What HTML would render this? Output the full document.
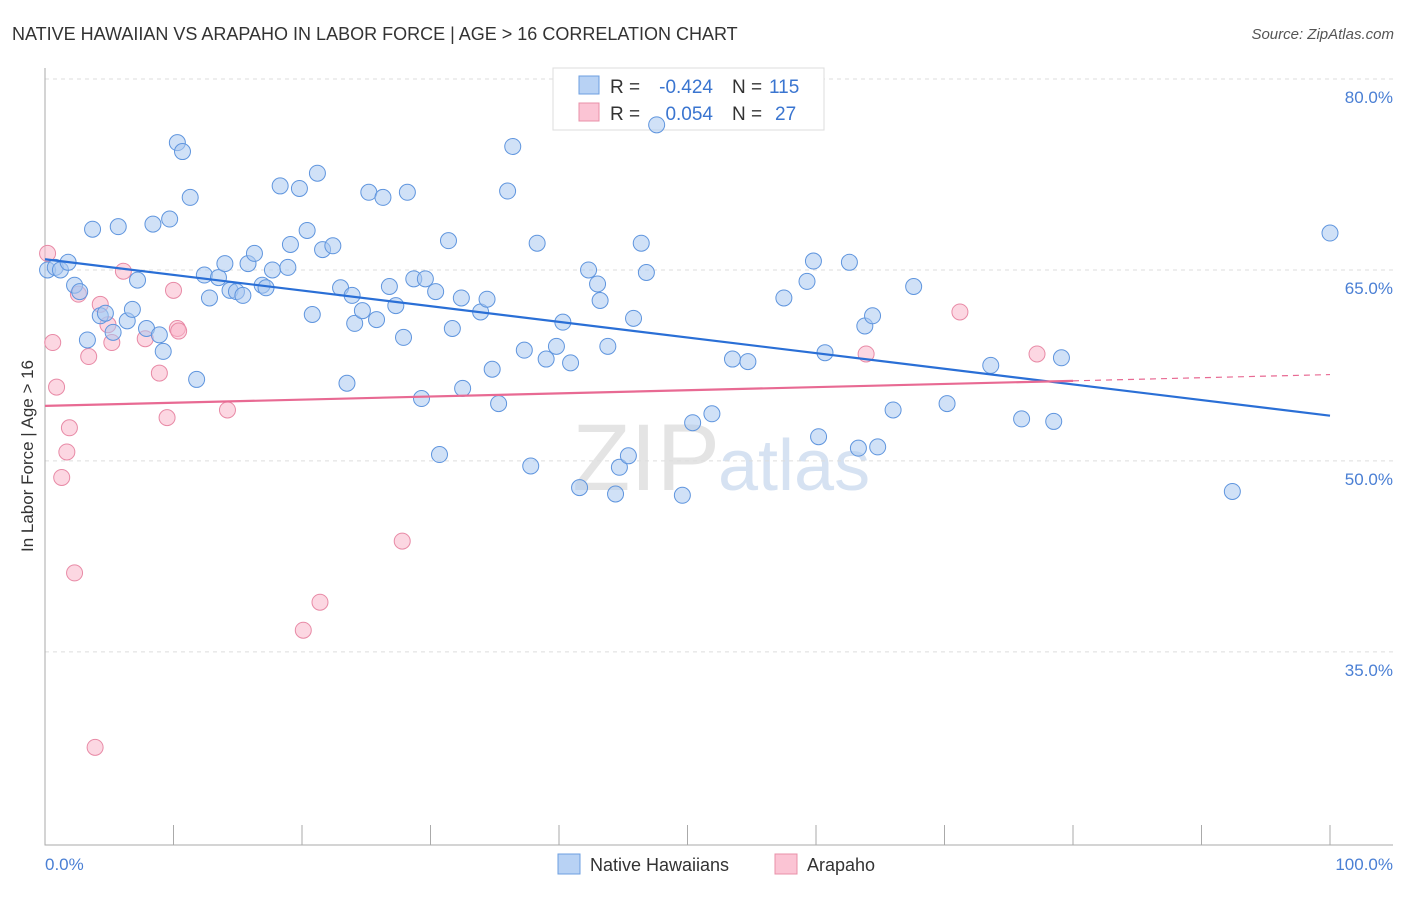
<!DOCTYPE html>
<html><head><meta charset="utf-8">
<style>
body{margin:0;background:#fff;font-family:"Liberation Sans",sans-serif;}
svg text{font-family:"Liberation Sans",sans-serif;}
</style></head>
<body>
<svg id="chart" width="1406" height="892">
<text x="12" y="40" font-size="18" fill="#333">NATIVE HAWAIIAN VS ARAPAHO IN LABOR FORCE | AGE &gt; 16 CORRELATION CHART</text>
<text x="1394" y="39" font-size="15" fill="#555" font-style="italic" text-anchor="end">Source: ZipAtlas.com</text>
<text x="720" y="490" font-size="95" fill="#e4e4e4" text-anchor="end" font-family="Liberation Serif">ZIP</text>
<text x="718" y="490" font-size="72" fill="#d6e2f2">atlas</text>
<g id="grid"></g>
<g id="axes"></g>
<g>
<rect x="553" y="68" width="271" height="62" fill="#fff" stroke="#ddd"/>
<rect x="579" y="76" width="20" height="18" fill="#b8d2f4" stroke="#6d9fe0"/>
<rect x="579" y="103" width="20" height="18" fill="#fbc4d4" stroke="#e890a8"/>
<text x="610" y="93" font-size="19" fill="#333">R =</text>
<text x="713" y="93" font-size="19" fill="#3a75d0" text-anchor="end">-0.424</text>
<text x="732" y="93" font-size="19" fill="#333">N =</text>
<text x="769" y="93" font-size="19" fill="#3a75d0">115</text>
<text x="610" y="120" font-size="19" fill="#333">R =</text>
<text x="713" y="120" font-size="19" fill="#3a75d0" text-anchor="end">0.054</text>
<text x="732" y="120" font-size="19" fill="#333">N =</text>
<text x="775" y="120" font-size="19" fill="#3a75d0">27</text>
</g>
<g id="pts"></g>
<g id="trend"></g>
<text transform="translate(33,456) rotate(-90)" font-size="17" fill="#333" text-anchor="middle">In Labor Force | Age &gt; 16</text>
<text x="45" y="870" font-size="17" fill="#4a7fd4">0.0%</text>
<text x="1393" y="870" font-size="17" fill="#4a7fd4" text-anchor="end">100.0%</text>
<g>
<rect x="558" y="854" width="22" height="20" fill="#b8d2f4" stroke="#6d9fe0"/>
<text x="590" y="871" font-size="18" fill="#333">Native Hawaiians</text>
<rect x="775" y="854" width="22" height="20" fill="#fbc4d4" stroke="#e890a8"/>
<text x="807" y="871" font-size="18" fill="#333">Arapaho</text>
</g>
</svg>
<script>
const yTicks=[80,65,50,35];
const yTickLabels=["80.0%","65.0%","50.0%","35.0%"];
const xTicks=[0,10,20,30,40,50,60,70,80,90,100];
const blueX=[0.2,0.8,1.2,1.8,2.3,2.7,3.3,3.7,4.3,4.7,5.3,5.7,6.4,6.8,7.2,7.9,8.4,8.9,9.2,9.7,10.3,10.7,11.3,11.8,12.4,12.8,13.5,14.0,14.4,14.9,15.4,15.8,16.3,16.9,17.2,17.7,18.3,18.9,19.1,19.8,20.4,20.8,21.2,21.6,22.4,23.0,23.5,23.9,24.1,24.7,25.2,25.8,26.3,26.8,27.3,27.9,28.2,28.7,29.3,29.6,30.4,30.7,31.4,31.7,32.4,32.5,33.9,34.4,34.8,35.3,36.0,36.4,37.3,37.8,38.3,39.0,39.8,40.3,40.9,41.6,42.3,43.0,43.2,43.8,44.4,44.7,45.4,45.8,46.4,46.8,47.6,49.6,50.4,51.9,53.5,54.7,57.5,59.3,59.8,60.2,60.7,62.6,63.3,63.8,64.4,64.8,66.0,67.6,70.2,73.6,76.0,78.5,79.1,92.4,100.0];
const blueY=[65.0,65.2,65.0,65.6,63.8,63.3,59.5,68.2,61.4,61.6,60.1,68.4,61.0,61.9,64.2,60.4,68.6,59.9,58.6,69.0,75.0,74.3,70.7,56.4,64.6,62.8,64.4,65.5,63.4,63.3,63.0,65.5,66.3,63.8,63.6,65.0,71.6,65.2,67.0,71.4,68.1,61.5,72.6,66.6,66.9,63.6,56.1,63.0,60.8,61.8,71.1,61.1,70.7,63.7,62.2,59.7,71.1,64.3,54.9,64.3,63.3,50.5,67.3,60.4,62.8,55.7,61.7,62.7,57.2,54.5,71.2,74.7,58.7,49.6,67.1,58.0,59.0,60.9,57.7,47.9,65.0,63.9,62.6,59.0,47.4,49.5,50.4,61.2,67.1,64.8,76.4,47.3,53.0,53.7,58.0,57.8,62.8,64.1,65.7,51.9,58.5,65.6,51.0,60.6,61.4,51.1,54.0,63.7,54.5,57.5,53.3,53.1,58.1,47.6,67.9];
const pinkX=[0.2,0.6,0.9,1.3,1.7,1.9,2.3,2.6,3.4,3.9,4.3,4.9,5.2,6.1,7.8,8.9,9.5,10.0,10.3,10.4,14.2,20.1,21.4,27.8,63.9,71.2,77.2];
const pinkY=[66.3,59.3,55.8,48.7,50.7,52.6,41.2,63.1,58.2,27.5,62.3,60.7,59.3,64.9,59.6,56.9,53.4,63.4,60.4,60.2,54.0,36.7,38.9,43.7,58.4,61.7,58.4];
const NS="http://www.w3.org/2000/svg";
const X=v=>45+v*12.85, Y=v=>79+(80-v)*12.73;
function mk(t,a,p){const e=document.createElementNS(NS,t);for(const k in a)e.setAttribute(k,a[k]);p.appendChild(e);return e;}
const grid=document.getElementById('grid'),axes=document.getElementById('axes'),pts=document.getElementById('pts'),tr=document.getElementById('trend');
yTicks.forEach((t,i)=>{
 const l=mk('line',{x1:45,x2:1393,y1:Y(t),y2:Y(t),stroke:'#ddd','stroke-dasharray':'4,4'},grid);
 
 
 const tx=mk('text',{x:1393,y:Y(t)+24,'font-size':17,fill:'#4a7fd4','text-anchor':'end'},grid);
 tx.textContent=yTickLabels[i];
 
 
});
const ax=mk('path',{d:'M45 68 V845 H1393',stroke:'#aaa',fill:'none'},axes);


xTicks.forEach(t=>{
 const l=mk('line',{x1:X(t),x2:X(t),y1:825,y2:845,stroke:'#aaa'},axes);
 
 
});
function dots(xs,ys,fill,stroke,name){
 xs.forEach((x,i)=>{
  const c=mk('circle',{cx:X(x),cy:Y(ys[i]),r:8,fill:fill,'fill-opacity':0.55,stroke:stroke,'stroke-width':1},pts);
  
  
 });
}
dots(pinkX,pinkY,'#f9b6cb','#e88aa6','arapaho-point');
dots(blueX,blueY,'#a9c8f1','#5f95de','native-hawaiian-point');
function reg(xs,ys){const n=xs.length;let mx=0,my=0;for(let i=0;i<n;i++){mx+=xs[i];my+=ys[i];}mx/=n;my/=n;let sxy=0,sxx=0;for(let i=0;i<n;i++){sxy+=(xs[i]-mx)*(ys[i]-my);sxx+=(xs[i]-mx)**2;}const b=sxy/sxx;return [my-b*mx,b];}
const [ba,bb]=reg(blueX,blueY);
const bl=mk('line',{x1:X(0),y1:Y(ba),x2:X(100),y2:Y(ba+bb*100),stroke:'#2a6fd6','stroke-width':2.2},tr);


const [pa,pb]=reg(pinkX,pinkY);
const pmax=Math.max(...pinkX)+2.8;
const pl=mk('line',{x1:X(0),y1:Y(pa),x2:X(pmax),y2:Y(pa+pb*pmax),stroke:'#e86a93','stroke-width':2.2},tr);


const pd=mk('line',{x1:X(pmax),y1:Y(pa+pb*pmax),x2:X(100),y2:Y(pa+pb*100),stroke:'#e86a93','stroke-width':1.2,'stroke-dasharray':'6,5'},tr);


</script>
</body></html>
